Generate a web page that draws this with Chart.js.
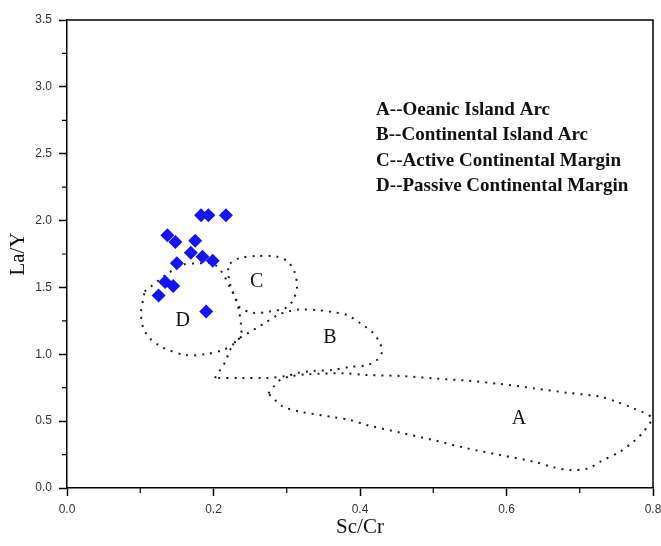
<!DOCTYPE html>
<html>
<head>
<meta charset="utf-8">
<script src="https://cdn.jsdelivr.net/npm/chart.js@4.4.0/dist/chart.umd.min.js"></script>
<style>
  html, body { margin: 0; padding: 0; background: #fff; }
  #wrap { width: 661px; height: 546px; }
</style>
</head>
<body>
<div id="wrap"><canvas id="chart"></canvas></div>
<script>
// samples: Sc/Cr vs La/Y
const sampleX = [0.183, 0.193, 0.217, 0.137, 0.148, 0.175, 0.169, 0.185, 0.199, 0.150, 0.134, 0.145, 0.125, 0.190];
const sampleY = [2.04, 2.04, 2.04, 1.89, 1.84, 1.85, 1.76, 1.73, 1.70, 1.68, 1.54, 1.51, 1.44, 1.32];

// tectonic fields (outline points, x = Sc/Cr, y = La/Y)
const fieldA = [
  [0.275, 0.708], [0.282, 0.758], [0.291, 0.808], [0.304, 0.834], [0.325, 0.849], [0.377, 0.858],
  [0.409, 0.845], [0.455, 0.838], [0.500, 0.820], [0.546, 0.803], [0.591, 0.778], [0.637, 0.746],
  [0.682, 0.713], [0.728, 0.683], [0.750, 0.645], [0.773, 0.596], [0.798, 0.524], [0.787, 0.421],
  [0.773, 0.346], [0.755, 0.272], [0.728, 0.197], [0.712, 0.147], [0.687, 0.135], [0.664, 0.155],
  [0.637, 0.197], [0.591, 0.247], [0.546, 0.297], [0.500, 0.359], [0.455, 0.414], [0.409, 0.471],
  [0.386, 0.509], [0.364, 0.529], [0.318, 0.571], [0.295, 0.608], [0.284, 0.658]
];
const fieldB = [
  [0.202, 0.823], [0.209, 0.883], [0.216, 0.942], [0.2225, 1.032], [0.232, 1.107], [0.247, 1.159],
  [0.259, 1.197], [0.270, 1.234], [0.288, 1.294], [0.304, 1.324], [0.318, 1.335], [0.341, 1.331],
  [0.363, 1.316], [0.382, 1.294], [0.400, 1.234], [0.418, 1.159], [0.427, 1.085], [0.430, 1.017],
  [0.423, 0.957], [0.410, 0.920], [0.386, 0.905], [0.363, 0.883], [0.336, 0.875], [0.314, 0.860],
  [0.300, 0.838], [0.273, 0.823], [0.240, 0.823]
];
const fieldC = [
  [0.2225, 1.68], [0.236, 1.72], [0.259, 1.735], [0.287, 1.73], [0.302, 1.69], [0.311, 1.61],
  [0.314, 1.50], [0.309, 1.41], [0.300, 1.35], [0.277, 1.32], [0.254, 1.31], [0.236, 1.35],
  [0.229, 1.43], [0.2225, 1.53], [0.220, 1.63]
];
const fieldD = [
  [0.106, 1.47], [0.113, 1.50], [0.134, 1.59], [0.158, 1.67], [0.182, 1.68], [0.199, 1.68],
  [0.212, 1.61], [0.2225, 1.50], [0.231, 1.41], [0.235, 1.32], [0.2375, 1.22], [0.2375, 1.14],
  [0.228, 1.08], [0.212, 1.03], [0.188, 1.00], [0.161, 0.995], [0.131, 1.05], [0.113, 1.12],
  [0.104, 1.20], [0.101, 1.31], [0.104, 1.41]
];

const fieldNames = ['A', 'B', 'C', 'D'];
const fieldLabelX = [0.617, 0.359, 0.259, 0.158];
const fieldLabelY = [0.516, 1.12, 1.54, 1.25];

const legendLines = [
  'A--Oeanic Island Arc',
  'B--Continental Island Arc',
  'C--Active Continental Margin',
  'D--Passive Continental Margin'
];
const legendX = 0.422;
const legendY = [2.827, 2.636, 2.446, 2.255];

const xTicks = [0, 0.2, 0.4, 0.6, 0.8];
const xMinor = [0.1, 0.3, 0.5, 0.7];
const yTicks = [0, 0.5, 1.0, 1.5, 2.0, 2.5, 3.0, 3.5];
const yMinor = [0.25, 0.75, 1.25, 1.75, 2.25, 2.75, 3.25];

function closed(pts) {
  const d = pts.map(p => ({x: p[0], y: p[1]}));
  d.push({x: pts[0][0], y: pts[0][1]});
  return d;
}

function outline(pts) {
  return {
    data: closed(pts),
    showLine: true,
    borderColor: '#1c1c1c',
    borderWidth: 2,
    borderDash: [2, 6],
    tension: 0.3,
    pointRadius: 0,
    pointHoverRadius: 0,
    fill: false,
    order: 2
  };
}

const extras = {
  id: 'extras',
  afterDraw(chart) {
    const ctx = chart.ctx;
    const a = chart.chartArea;
    const sx = chart.scales.x, sy = chart.scales.y;
    ctx.save();
    // frame top and right
    ctx.strokeStyle = '#000';
    ctx.lineWidth = 1.5;
    ctx.beginPath();
    ctx.moveTo(a.left, a.top);
    ctx.lineTo(a.right, a.top);
    ctx.lineTo(a.right, a.bottom);
    ctx.stroke();
    // minor ticks
    ctx.lineWidth = 1.2;
    ctx.beginPath();
    xMinor.forEach(v => {
      const px = sx.getPixelForValue(v);
      ctx.moveTo(px, a.bottom);
      ctx.lineTo(px, a.bottom + 5);
    });
    yMinor.forEach(v => {
      const py = sy.getPixelForValue(v);
      ctx.moveTo(a.left, py);
      ctx.lineTo(a.left - 5, py);
    });
    ctx.stroke();
    // field letters
    ctx.fillStyle = '#111';
    ctx.font = '20px "Liberation Serif", "Times New Roman", serif';
    ctx.textAlign = 'center';
    ctx.textBaseline = 'middle';
    fieldNames.forEach((n, i) => {
      ctx.fillText(n, sx.getPixelForValue(fieldLabelX[i]), sy.getPixelForValue(fieldLabelY[i]));
    });
    // legend text
    ctx.font = 'bold 19px "Liberation Serif", "Times New Roman", serif';
    ctx.textAlign = 'left';
    legendLines.forEach((t, i) => {
      ctx.fillText(t, sx.getPixelForValue(legendX), sy.getPixelForValue(legendY[i]));
    });
    ctx.restore();
  }
};

new Chart(document.getElementById('chart'), {
  type: 'scatter',
  data: {
    datasets: [
      {
        label: 'samples',
        data: sampleX.map((x, i) => ({x: x, y: sampleY[i]})),
        pointStyle: 'rectRot',
        pointRadius: 7,
        pointHoverRadius: 7,
        backgroundColor: '#1414f0',
        borderColor: '#1414f0',
        borderWidth: 0,
        order: 1
      },
      outline(fieldA),
      outline(fieldB),
      outline(fieldC),
      outline(fieldD)
    ]
  },
  options: {
    responsive: true,
    maintainAspectRatio: false,
    animation: false,
    layout: { padding: { top: 20, right: 8, left: 0, bottom: 0 } },
    plugins: {
      legend: { display: false },
      tooltip: { enabled: false }
    },
    scales: {
      x: {
        type: 'linear',
        min: 0,
        max: 0.8,
        afterBuildTicks: s => { s.ticks = xTicks.map(v => ({value: v})); },
        afterFit: s => { s.height = 58; s.paddingLeft = 0; s.paddingRight = 0; },
        grid: { drawOnChartArea: false, tickLength: 8, tickColor: '#000', tickWidth: 1.5 },
        border: { color: '#000', width: 1.5 },
        ticks: {
          padding: 6,
          color: '#333',
          font: { family: '"Liberation Sans", Arial, sans-serif', size: 12 },
          callback: v => v.toFixed(1),
          maxRotation: 0
        },
        title: {
          display: true,
          text: 'Sc/Cr',
          color: '#111',
          padding: { top: 0, bottom: 6 },
          font: { family: '"Liberation Serif", "Times New Roman", serif', size: 21 }
        }
      },
      y: {
        type: 'linear',
        min: 0,
        max: 3.5,
        afterBuildTicks: s => { s.ticks = yTicks.map(v => ({value: v})); },
        afterFit: s => { s.width = 67; s.paddingTop = 0; s.paddingBottom = 0; },
        grid: { drawOnChartArea: false, tickLength: 8, tickColor: '#000', tickWidth: 1.5 },
        border: { color: '#000', width: 1.5 },
        ticks: {
          padding: 7,
          color: '#333',
          font: { family: '"Liberation Sans", Arial, sans-serif', size: 12 },
          callback: v => v.toFixed(1)
        },
        title: {
          display: true,
          text: 'La/Y',
          color: '#111',
          padding: { top: 6, bottom: 0 },
          font: { family: '"Liberation Serif", "Times New Roman", serif', size: 21 }
        }
      }
    }
  },
  plugins: [extras]
});
</script>
</body>
</html>
